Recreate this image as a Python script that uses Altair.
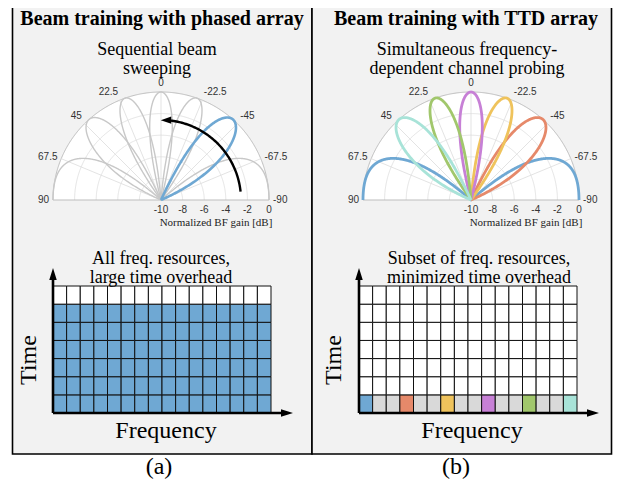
import numpy as np
import pandas as pd
import altair as alt

# ---------------- data ----------------
panel_titles = ["Beam training with phased array", "Beam training with TTD array"]
polar_subtitles = [["Sequential beam", "sweeping"],
                   ["Simultaneous frequency-", "dependent channel probing"]]
grid_subtitles = [["All freq. resources,", "large time overhead"],
                  ["Subset of freq. resources,", "minimized time overhead"]]
panel_labels = ["(a)", "(b)"]
axis_x_label = "Frequency"
axis_y_label = "Time"
gain_axis_label = "Normalized BF gain [dB]"

angle_ticks = [90, 67.5, 45, 22.5, 0, -22.5, -45, -67.5, -90]
angle_tick_text = ["90", "67.5", "45", "22.5", "0", "-22.5", "-45", "-67.5", "-90"]
gain_ticks = [-10, -8, -6, -4, -2, 0]
gain_tick_text = ["-10", "-8", "-6", "-4", "-2", "0"]
gain_min, gain_max = -10, 0

n_antennas = 6
beam_sines = [-1, -2 / 3, -1 / 3, 0, 1 / 3, 2 / 3]   # sin(steering angle), + = left
beam_colors = ["#6fa8d3", "#e6896a", "#efc35c", "#c780d6", "#a1c76c", "#a8e3d8"]
swept_beam = 1                 # beam shown highlighted in (a)
sweep_arrow_angles = [-84, 0]  # sweep direction in (a), degrees

n_freq = 16
n_time = 7
used_slots_a = 6                       # slots occupied across all freq. in (a)
probe_freqs_b = [0, 3, 6, 9, 12, 15]   # subcarrier of each beam in (b)

# ---------------- layout ----------------
W, H = 605, 473
OFF = 8
PANEL_X = [12.5, 312.0]
PANEL_W = 299.5
PANEL_TOP, PANEL_BOTTOM = 0.5, 454
POLAR_C = [(161, 200), (471, 200)]
R = 108
GRID_X0 = [53, 359]
GRID_W = 218
GRID_TOP, GRID_BOTTOM = 286, 413
ARROW_TOP = 268
ARROW_RIGHT = 240
TITLE_X = [162, 466]
PSUB_X = [157, 467]
GSUB_X = [161, 479]
FREQ_X = [166, 472]
TIME_X = [29, 334]
LAB_X = [159, 456]
SERIF = "Liberation Serif"
SANS = "Liberation Sans"
GRID_GRAY = "#d9d9d9"

xs = alt.Scale(domain=[OFF, OFF + W], nice=False, zero=False)
ys = alt.Scale(domain=[OFF, OFF + H], nice=False, zero=False, reverse=True)


def X(f):
    return alt.X(f, type="quantitative", scale=xs, axis=None)


def Y(f):
    return alt.Y(f, type="quantitative", scale=ys, axis=None)


def X2(f):
    return alt.X2(f)


def Y2(f):
    return alt.Y2(f)


def g2r(g):
    g = np.clip(g, gain_min, gain_max)
    return (g - gain_min) / (gain_max - gain_min) * R


def pol(c, th_deg, r):
    th = np.radians(th_deg)
    return c[0] - r * np.sin(th), c[1] - r * np.cos(th)


layers = []

# panels
panels = pd.DataFrame({
    "x": PANEL_X, "x2": [p + PANEL_W for p in PANEL_X],
    "y": [PANEL_TOP] * 2, "y2": [PANEL_BOTTOM] * 2})
layers.append(alt.Chart(panels).mark_rect(fill="#f2f2f2", stroke="black", strokeWidth=1.6)
              .encode(x=X("x"), x2=X2("x2"), y=Y("y"), y2=Y2("y2")))

# polar white half discs
th = np.linspace(-90, 90, 361)
rows = []
for p, c in enumerate(POLAR_C):
    px, py = pol(c, th, R)
    for i in range(len(th)):
        rows.append({"p": p, "x": px[i], "y": py[i], "y2": c[1]})
disc = pd.DataFrame(rows)
layers.append(alt.Chart(disc).mark_area(color="white", opacity=1)
              .encode(x=X("x"), y=Y("y"), y2=Y2("y2"), detail="p:N"))

# rings
rows = []
for p, c in enumerate(POLAR_C):
    for g in gain_ticks[1:]:
        px, py = pol(c, th, g2r(g))
        for i in range(len(th)):
            rows.append({"k": f"{p}_{g}", "i": i, "x": px[i], "y": py[i], "outer": g == gain_max})
rings = pd.DataFrame(rows)
layers.append(alt.Chart(rings[~rings.outer]).mark_line(color="#dcdcdc", strokeWidth=0.8)
              .encode(x=X("x"), y=Y("y"), detail="k:N", order="i:Q"))
layers.append(alt.Chart(rings[rings.outer]).mark_line(color="#bdbdbd", strokeWidth=1)
              .encode(x=X("x"), y=Y("y"), detail="k:N", order="i:Q"))

# spokes
rows = []
for p, c in enumerate(POLAR_C):
    for a in angle_ticks:
        ex, ey = pol(c, a, R)
        rows.append({"x": c[0], "y": c[1], "x2": ex, "y2": ey, "edge": abs(a) == 90})
spokes = pd.DataFrame(rows)
layers.append(alt.Chart(spokes[~spokes.edge]).mark_rule(color="#dcdcdc", strokeWidth=0.8)
              .encode(x=X("x"), y=Y("y"), x2=X2("x2"), y2=Y2("y2")))
layers.append(alt.Chart(spokes[spokes.edge]).mark_rule(color="#bdbdbd", strokeWidth=1)
              .encode(x=X("x"), y=Y("y"), x2=X2("x2"), y2=Y2("y2")))

# beam patterns
thb = np.linspace(-90, 90, 1441)
sb = np.sin(np.radians(thb))


def pattern(s0):
    psi = np.pi * (sb - s0)
    num = np.sin(n_antennas * psi / 2)
    den = n_antennas * np.sin(psi / 2)
    af = np.where(np.abs(den) < 1e-9, 1.0, np.abs(num / np.where(np.abs(den) < 1e-9, 1, den)))
    return 20 * np.log10(np.maximum(af, 1e-6))


rows = []
for p, c in enumerate(POLAR_C):
    for b, s0 in enumerate(beam_sines):
        gdb = pattern(s0)
        px, py = pol(c, thb, g2r(gdb))
        if p == 0:
            grp = "hl" if b == swept_beam else "gray"
            col = beam_colors[0] if b == swept_beam else "#c8c8c8"
        else:
            grp = "col"
            col = beam_colors[b]
        for i in range(len(thb)):
            rows.append({"k": f"{p}_{b}", "b": b, "i": i, "x": px[i], "y": py[i], "grp": grp, "col": col})
lobes = pd.DataFrame(rows)
for grp, sw in [("gray", 1.4), ("hl", 2.6), ("col", 2.8)]:
    layers.append(alt.Chart(lobes[lobes.grp == grp]).mark_line(strokeWidth=sw, strokeJoin="round")
                  .encode(x=X("x"), y=Y("y"), detail="k:N", order="i:Q",
                          color=alt.Color("col:N", scale=None)))

# sweep arrow in (a)
arc_r = 80
tha = np.linspace(sweep_arrow_angles[0], sweep_arrow_angles[1] - 4, 80)
ax_, ay_ = pol(POLAR_C[0], tha, arc_r)
arc = pd.DataFrame({"x": ax_, "y": ay_, "i": np.arange(len(tha))})
layers.append(alt.Chart(arc).mark_line(color="black", strokeWidth=2.4)
              .encode(x=X("x"), y=Y("y"), order="i:Q"))
hx, hy = pol(POLAR_C[0], sweep_arrow_angles[1] - 3.6, arc_r)
head_arc = pd.DataFrame({"x": [hx], "y": [hy]})
layers.append(alt.Chart(head_arc).mark_point(shape="M-1,0L1,0.7L1,-0.7Z", filled=True, size=110,
                                              color="black", opacity=1, strokeWidth=0)
              .encode(x=X("x"), y=Y("y")))

# angle tick labels
R_LAB = 112
rows = []
for p, c in enumerate(POLAR_C):
    for a, t in zip(angle_ticks, angle_tick_text):
        lx, ly = pol(c, a, R_LAB)
        align = "center" if a == 0 else ("right" if a > 0 else "left")
        base = "bottom" if abs(a) < 60 else "middle"
        rows.append({"x": lx, "y": ly, "text": t, "align": align, "base": base})
alab = pd.DataFrame(rows)
for (al, bs), d in alab.groupby(["align", "base"]):
    layers.append(alt.Chart(d).mark_text(font=SANS, fontSize=10, color="#333333", align=al, baseline=bs)
                  .encode(x=X("x"), y=Y("y"), text="text:N"))

# gain tick labels
rows = []
for p, c in enumerate(POLAR_C):
    for g, t in zip(gain_ticks, gain_tick_text):
        rows.append({"x": c[0] + g2r(g), "y": c[1] + 5, "text": t})
glab = pd.DataFrame(rows)
layers.append(alt.Chart(glab).mark_text(font=SANS, fontSize=10, color="#333333", align="center", baseline="top")
              .encode(x=X("x"), y=Y("y"), text="text:N"))
gname = pd.DataFrame({"x": [c[0] + 0.5 * R + 1 for c in POLAR_C], "y": [c[1] + 26 for c in POLAR_C],
                      "text": [gain_axis_label] * 2})
layers.append(alt.Chart(gname).mark_text(font=SERIF, fontSize=11, color="#222222", align="center",
                                         baseline="alphabetic")
              .encode(x=X("x"), y=Y("y"), text="text:N"))

# time-frequency grids
cw = GRID_W / n_freq
ch = (GRID_BOTTOM - GRID_TOP) / n_time
rows = []
for p in range(2):
    for f in range(n_freq):
        for t in range(n_time):   # t = 0 bottom
            if p == 0:
                col = beam_colors[0] if t < used_slots_a else "white"
            else:
                if t == 0:
                    col = beam_colors[probe_freqs_b.index(f)] if f in probe_freqs_b else GRID_GRAY
                else:
                    col = "white"
            x0 = GRID_X0[p] + f * cw
            y0 = GRID_BOTTOM - (t + 1) * ch
            rows.append({"x": x0, "x2": x0 + cw, "y": y0, "y2": y0 + ch, "col": col})
cells = pd.DataFrame(rows)
layers.append(alt.Chart(cells).mark_rect(stroke="#111111", strokeWidth=1)
              .encode(x=X("x"), x2=X2("x2"), y=Y("y"), y2=Y2("y2"),
                      fill=alt.Fill("col:N", scale=None)))

# axis arrows
rows = []
heads = []
for p in range(2):
    x0 = GRID_X0[p]
    rows.append({"x": x0, "y": GRID_BOTTOM, "x2": x0, "y2": ARROW_TOP + 8})
    rows.append({"x": x0, "y": GRID_BOTTOM, "x2": x0 + ARROW_RIGHT - 8, "y2": GRID_BOTTOM})
    heads.append({"x": x0, "y": ARROW_TOP + 6, "dir": "up"})
    heads.append({"x": x0 + ARROW_RIGHT - 6, "y": GRID_BOTTOM, "dir": "right"})
axes_df = pd.DataFrame(rows)
heads_df = pd.DataFrame(heads)
layers.append(alt.Chart(axes_df).mark_rule(color="black", strokeWidth=2.6)
              .encode(x=X("x"), y=Y("y"), x2=X2("x2"), y2=Y2("y2")))
layers.append(alt.Chart(heads_df[heads_df.dir == "up"])
              .mark_point(shape="M0,-1L0.62,1L-0.62,1Z", filled=True, size=144, color="black",
                          opacity=1, strokeWidth=0)
              .encode(x=X("x"), y=Y("y")))
layers.append(alt.Chart(heads_df[heads_df.dir == "right"])
              .mark_point(shape="M1,0L-1,0.62L-1,-0.62Z", filled=True, size=144, color="black",
                          opacity=1, strokeWidth=0)
              .encode(x=X("x"), y=Y("y")))


# texts
def txt(xs_, ys_, texts, **kw):
    d = pd.DataFrame({"x": xs_, "y": ys_, "text": texts})
    base = dict(font=SERIF, color="black", align="center", baseline="alphabetic")
    base.update(kw)
    return alt.Chart(d).mark_text(**base).encode(x=X("x"), y=Y("y"), text="text:N")


layers.append(txt(TITLE_X, [24.5, 24.5], panel_titles, fontSize=20, fontWeight="bold"))
layers.append(txt(PSUB_X * 2, [55, 55, 74, 74],
                  [polar_subtitles[0][0], polar_subtitles[1][0], polar_subtitles[0][1], polar_subtitles[1][1]],
                  fontSize=18))
layers.append(txt(GSUB_X * 2, [264, 264, 283, 283],
                  [grid_subtitles[0][0], grid_subtitles[1][0], grid_subtitles[0][1], grid_subtitles[1][1]],
                  fontSize=18))
layers.append(txt(FREQ_X, [438, 438], [axis_x_label] * 2, fontSize=24))
layers.append(txt(TIME_X, [360, 360], [axis_y_label] * 2, fontSize=24, angle=270, baseline="middle"))
layers.append(txt(LAB_X, [474, 474], panel_labels, fontSize=24))

chart = alt.layer(*layers).properties(
    width=W, height=H, padding=0,
    autosize=alt.AutoSizeParams(type="none"),
    background="white",
).configure_view(stroke=None)

chart.save("out.html", embed_options={"renderer": "svg", "actions": False})
